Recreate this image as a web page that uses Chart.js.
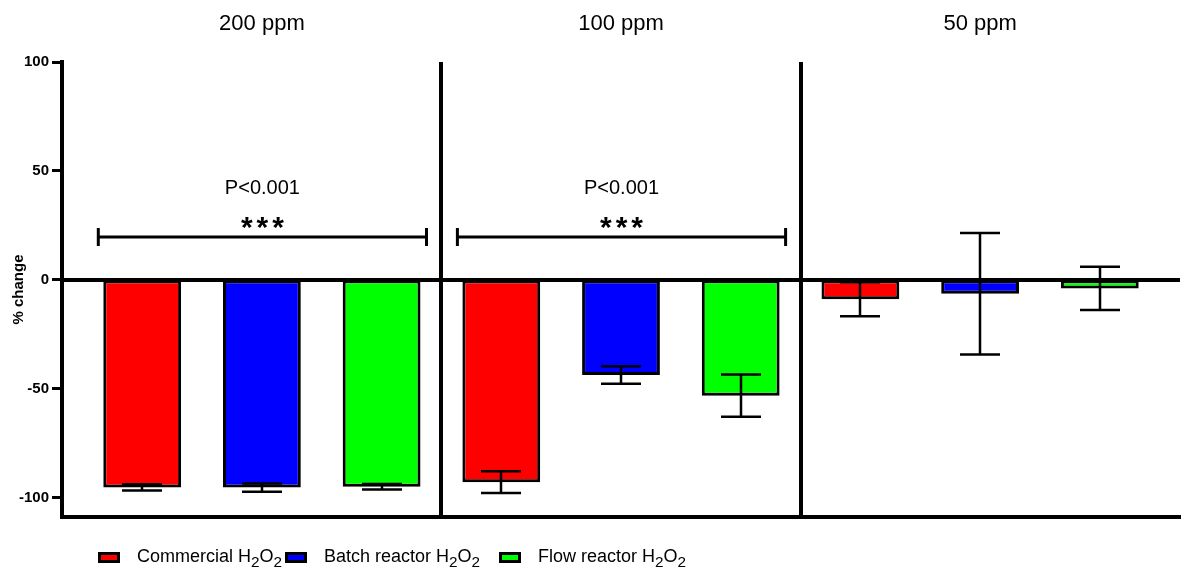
<!DOCTYPE html>
<html>
<head>
<meta charset="utf-8">
<title>% change by H2O2 source and concentration</title>
<script src="https://cdn.jsdelivr.net/npm/chart.js@4/dist/chart.umd.min.js"></script>
<style>
  html, body { margin: 0; padding: 0; background: #fff; }
  #wrap { position: relative; width: 1186px; height: 568px; }
  #chart { position: absolute; left: 0; top: 0; }
  #legend {
    position: absolute; left: 0; top: 0; width: 1186px; height: 568px;
    pointer-events: none;
    font-family: "Liberation Sans", Arial, sans-serif; font-size: 18px; color: #000;
  }
  .item { position: absolute; top: 545px; height: 22px; display: flex; align-items: center; white-space: nowrap; }
  .swatch { width: 16px; height: 5px; border: 3px solid #000; margin-right: 17px; position: relative; top: 1px; }
  .item sub { font-size: 85%; line-height: 0; vertical-align: -0.3em; }
</style>
</head>
<body>
<div id="wrap">
  <canvas id="chart" width="1186" height="568"></canvas>
  <div id="legend"></div>
</div>
<script>
// Concentration groups and H2O2 sources
const concentrations = ['200 ppm', '100 ppm', '50 ppm'];
const seriesNames = ['Commercial H₂O₂', 'Batch reactor H₂O₂', 'Flow reactor H₂O₂'];
const seriesColors = ['#ff0000', '#0000ff', '#00ff00'];

// Mean % change and standard deviation, one entry per concentration
const commercialMean = [-95.4, -93.0, -9.0];
const commercialSd   = [1.4, 5.0, 7.8];
const batchMean      = [-95.5, -43.8, -6.5];
const batchSd        = [1.9, 4.0, 27.9];
const flowMean       = [-95.1, -53.3, -4.0];
const flowSd         = [1.3, 9.7, 9.9];

// Y axis tick labels
const yTicks = [100, 50, 0, -50, -100];

// Significance annotations across the three sources within a concentration
const comparisonGroups = [0, 1];
const comparisonP = ['P<0.001', 'P<0.001'];
const comparisonStars = ['***', '***'];
const bracketLevel = 19.5;

const FONT = '"Liberation Sans", Arial, sans-serif';
const means = [commercialMean, batchMean, flowMean];
const sds = [commercialSd, batchSd, flowSd];
const nSeries = seriesNames.length;
const slots = [];
for (let i = 0; i < concentrations.length * nSeries; i++) slots.push(i);

const datasets = seriesNames.map((name, s) => ({
  label: name,
  data: means[s].map((v, g) => ({ x: g * nSeries + s, y: v })),
  backgroundColor: seriesColors[s],
  borderColor: '#000',
  borderWidth: 3,
  borderSkipped: false,
  barPercentage: 0.65,
  categoryPercentage: 1,
  grouped: false
}));

const annotate = {
  id: 'annotate',
  afterDatasetsDraw(chart) {
    const { ctx, chartArea: a, scales: { x, y } } = chart;
    ctx.save();
    ctx.strokeStyle = '#000';
    ctx.fillStyle = '#000';
    ctx.lineCap = 'butt';

    // zero line
    const y0 = Math.round(y.getPixelForValue(0));
    ctx.lineWidth = 4;
    ctx.beginPath();
    ctx.moveTo(a.left, y0);
    ctx.lineTo(a.right, y0);
    ctx.stroke();

    // group separators
    for (let g = 1; g < concentrations.length; g++) {
      const px = Math.round(x.getPixelForValue(g * nSeries - 0.5));
      ctx.beginPath();
      ctx.moveTo(px, a.top);
      ctx.lineTo(px, a.bottom);
      ctx.stroke();
    }

    // error bars (mean ± SD)
    ctx.lineWidth = 2.5;
    const capHalf = 20;
    datasets.forEach((ds, s) => {
      const meta = chart.getDatasetMeta(s);
      meta.data.forEach((bar, g) => {
        const m = means[s][g], sd = sds[s][g];
        const cx = Math.round(bar.x);
        const yHi = y.getPixelForValue(m + sd);
        const yLo = y.getPixelForValue(m - sd);
        ctx.beginPath();
        ctx.moveTo(cx, yHi); ctx.lineTo(cx, yLo);
        ctx.moveTo(cx - capHalf, yHi); ctx.lineTo(cx + capHalf, yHi);
        ctx.moveTo(cx - capHalf, yLo); ctx.lineTo(cx + capHalf, yLo);
        ctx.stroke();
      });
    });

    // significance brackets
    const by = Math.round(y.getPixelForValue(bracketLevel));
    comparisonGroups.forEach((g, k) => {
      const first = chart.getDatasetMeta(0).data[g];
      const last = chart.getDatasetMeta(nSeries - 1).data[g];
      const x1 = first.x - first.width / 2 - 5;
      const x2 = last.x + last.width / 2 + 6;
      ctx.lineWidth = 3;
      ctx.beginPath();
      ctx.moveTo(x1, by); ctx.lineTo(x2, by);
      ctx.moveTo(x1, by - 9); ctx.lineTo(x1, by + 9);
      ctx.moveTo(x2, by - 9); ctx.lineTo(x2, by + 9);
      ctx.stroke();
      const cx = (x1 + x2) / 2;
      ctx.textAlign = 'center';
      ctx.textBaseline = 'alphabetic';
      ctx.font = 'bold 30px ' + FONT;
      ctx.letterSpacing = '4px';
      const m = ctx.measureText(comparisonStars[k]);
      const starCenter = by - 14.5;
      const base = starCenter + (m.actualBoundingBoxAscent - m.actualBoundingBoxDescent) / 2;
      ctx.fillText(comparisonStars[k], cx + 2, base);
      ctx.letterSpacing = '0px';
      ctx.font = '20px ' + FONT;
      ctx.fillText(comparisonP[k], cx, by - 43);
    });

    // concentration headers
    ctx.font = '22px ' + FONT;
    ctx.textAlign = 'center';
    ctx.textBaseline = 'alphabetic';
    concentrations.forEach((c, g) => {
      ctx.fillText(c, x.getPixelForValue(g * nSeries + (nSeries - 1) / 2), 30);
    });
    ctx.restore();
  }
};

const chart = new Chart(document.getElementById('chart'), {
  type: 'bar',
  data: { datasets },
  options: {
    responsive: false,
    animation: false,
    layout: { padding: { top: 62, right: 6, bottom: 51, left: 0 } },
    plugins: { legend: { display: false }, tooltip: { enabled: false } },
    scales: {
      x: {
        type: 'linear',
        offset: false,
        min: -0.67,
        max: slots.length - 1 + 0.67,
        afterBuildTicks: s => { s.ticks = slots.map(v => ({ value: v })); },
        afterFit: s => { s.height = 0; },
        ticks: { display: false },
        grid: { display: false },
        border: { display: true, color: '#000', width: 4 }
      },
      y: {
        min: -109,
        max: 100,
        afterBuildTicks: s => { s.ticks = yTicks.map(v => ({ value: v })); },
        afterFit: s => { s.width = 62; },
        border: { display: true, color: '#000', width: 4 },
        grid: { display: true, drawOnChartArea: false, drawTicks: true, tickLength: 10, tickWidth: 3, tickColor: '#000' },
        ticks: { color: '#000', padding: 3, font: { family: FONT, size: 15, weight: 'bold' } },
        title: {
          display: true, text: '% change', color: '#000',
          padding: { top: 10, bottom: 0 },
          font: { family: FONT, size: 15, weight: 'bold' }
        }
      }
    }
  },
  plugins: [annotate]
});

// HTML legend with subscripted formula
const legendLeft = [98, 285, 499];
const legendEl = document.getElementById('legend');
chart.data.datasets.forEach((ds, i) => {
  const item = document.createElement('div');
  item.className = 'item';
  item.style.left = legendLeft[i] + 'px';
  const sw = document.createElement('span');
  sw.className = 'swatch';
  sw.style.background = ds.backgroundColor;
  const txt = document.createElement('span');
  txt.innerHTML = ds.label.replace(/₂/g, '<sub>2</sub>');
  item.appendChild(sw);
  item.appendChild(txt);
  legendEl.appendChild(item);
});
</script>
</body>
</html>
